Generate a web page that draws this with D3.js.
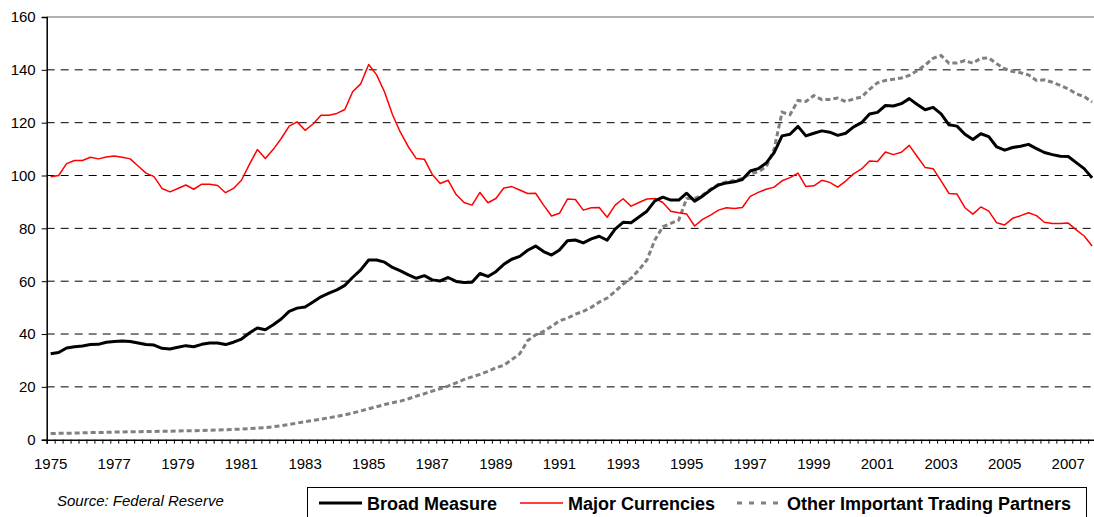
<!DOCTYPE html>
<html><head><meta charset="utf-8">
<script src="https://cdn.jsdelivr.net/npm/d3@7"></script>
<style>body{margin:0;background:#fff}svg{display:block}text{font-family:Arial,"Liberation Sans",sans-serif}</style>
</head><body><svg id="c" width="1094" height="517"></svg>
<script>
const startYear = 1975, quartersPerYear = 4;
const yTicks = [0,20,40,60,80,100,120,140,160];
const xLabels = ["1975","1977","1979","1981","1983","1985","1987","1989","1991","1993","1995","1997","1999","2001","2003","2005","2007"];
const seriesNames = ["Broad Measure","Major Currencies","Other Important Trading Partners"];
const broad = [32.5,33,34.7,35.2,35.5,36,36.1,36.9,37.2,37.4,37.2,36.6,36,35.8,34.6,34.3,35,35.6,35.2,36.1,36.6,36.6,36,36.9,38.1,40.4,42.3,41.6,43.5,45.7,48.6,49.8,50.2,52.1,54.1,55.5,56.7,58.4,61.5,64.3,68,68,67.2,65.2,63.9,62.4,61.1,62.1,60.5,60.1,61.4,59.9,59.5,59.6,62.9,61.8,63.6,66.4,68.3,69.4,71.7,73.3,71.2,69.9,71.8,75.3,75.6,74.5,76,77,75.5,79.7,82.3,82.1,84.3,86.5,90.4,91.8,90.7,90.7,93.3,90.3,92.2,94.5,96.4,97.2,97.6,98.5,101.7,102.6,104.7,108.7,115,115.6,118.6,115,116,116.9,116.4,115.2,116,118.4,120,123.3,123.9,126.5,126.3,127.2,129.1,126.9,124.9,125.8,123.3,119.2,118.7,115.6,113.6,115.8,114.7,110.8,109.6,110.6,111.1,111.8,110.2,108.7,107.9,107.3,107.2,104.9,102.6,99.1];
const major = [99.5,100,104.5,105.7,105.7,106.9,106.3,107,107.4,106.9,106.3,103.6,100.9,99.6,95.1,93.8,95.1,96.4,94.8,96.7,96.7,96.2,93.5,95.1,98.2,104.2,109.8,106.4,109.9,114,118.7,120.3,117.1,119.5,122.8,122.8,123.5,125,131.8,134.7,142,138.1,131.6,123,116.3,110.8,106.4,106.2,100.4,97,98.2,92.8,89.8,88.8,93.6,89.7,91.3,95.3,95.8,94.5,93.2,93.3,88.8,84.7,85.7,91.1,90.9,86.9,87.8,87.9,84.2,88.8,91.2,88.4,89.8,91.1,91.3,89.8,86.5,85.9,85.4,80.9,83.4,85,86.9,87.8,87.5,87.9,92.1,93.6,94.8,95.6,98,99.2,100.9,95.8,96.1,98.2,97.4,95.6,97.9,100.6,102.5,105.5,105.3,108.9,107.9,108.8,111.4,107.2,103,102.6,98,93.2,93,87.8,85.4,88.1,86.5,82.1,81.3,83.8,84.8,85.9,84.8,82.3,81.8,81.8,82,79.4,77.1,73.3];
const other = [2.3,2.4,2.4,2.5,2.6,2.7,2.7,2.8,2.9,2.9,3.0,3.0,3.1,3.1,3.2,3.2,3.3,3.4,3.4,3.5,3.6,3.7,3.8,
3.9,4.0,4.2,4.4,4.6,4.9,5.3,5.8,6.3,6.8,7.3,7.8,8.3,8.8,9.4,10.1,10.9,11.7,12.5,13.3,14.0,14.6,15.5,
16.5,17.4,18.4,19.3,20.3,21.5,22.8,23.8,24.7,25.9,27.2,28.2,30.3,32.5,37.5,39.7,41,42.9,45,46,47.5,
48.6,50.1,52.1,53.6,56.1,58.9,61.1,64.3,68,75.6,80.6,81.9,83.1,91.3,91.3,92.6,94.8,96.6,97.6,98.1,98.9,100.6,
101.4,103.3,110,124,123,128.4,128,130.3,128.7,128.8,129.3,128,129,129.7,132.6,135.1,136,136.4,136.9,137.9,139.7,141.8,
144.4,145.4,142.5,142.6,143.5,142.5,144.4,144.5,142.3,140.4,139.4,138.9,138.1,136,136.2,135.3,134.1,132.8,130.9,129.9,127.8];

const n = broad.length;
const svg = d3.select("#c");
const plotL = 46.7, plotR = plotL + n*7.95, plotT = 17, plotB = 439.7;
const x = d3.scaleLinear().domain([0,n]).range([plotL,plotR]);
const y = d3.scaleLinear().domain([0,160]).range([plotB,plotT]);

// gridlines
svg.append("g").selectAll("line").data(yTicks.filter(v=>v>0&&v<160)).join("line")
  .attr("x1",plotL).attr("x2",plotR).attr("y1",d=>y(d)).attr("y2",d=>y(d))
  .attr("stroke","#000").attr("stroke-width",1).attr("stroke-dasharray","8,6");
svg.append("line").attr("x1",plotL).attr("x2",plotR).attr("y1",y(160)).attr("y2",y(160))
  .attr("stroke","#999").attr("stroke-width",1.5);

// y axis
const yAxis = d3.axisLeft(y).tickValues(yTicks).tickSize(5).tickPadding(6).tickFormat(d3.format("d"));
const gy = svg.append("g").attr("transform",`translate(${plotL},0)`).call(yAxis);
gy.select(".domain").attr("stroke","#000").attr("stroke-width",1.5);
gy.selectAll("text").attr("font-size",15).attr("fill","#000").attr("font-family","Arial, 'Liberation Sans', sans-serif");

// x axis with quarterly ticks
const xAxis = d3.axisBottom(x).tickValues(d3.range(0,n+1)).tickSize(4).tickFormat("");
const gx = svg.append("g").attr("transform",`translate(0,${plotB})`).call(xAxis);
gx.select(".domain").attr("stroke","#000").attr("stroke-width",1.5);
gx.selectAll(".tick line").attr("stroke","#000");
svg.append("g").selectAll("text").data(xLabels).join("text")
  .attr("x",d=>x((+d-startYear)*quartersPerYear+0.5)).attr("y",plotB+29)
  .attr("text-anchor","middle").attr("font-size",15).attr("fill","#000").text(d=>d);

const line = d3.line().x((d,i)=>x(i+0.5)).y(d=>y(d));
svg.append("path").datum(other).attr("d",line).attr("fill","none")
  .attr("stroke","#808080").attr("stroke-width",3).attr("stroke-dasharray","5,3");
svg.append("path").datum(major).attr("d",line).attr("fill","none")
  .attr("stroke","#ff0000").attr("stroke-width",1.5).attr("stroke-linejoin","round");
svg.append("path").datum(broad).attr("d",line).attr("fill","none")
  .attr("stroke","#000").attr("stroke-width",3).attr("stroke-linejoin","round");

// source
svg.append("text").attr("x",57).attr("y",506).attr("font-size",15).attr("font-style","italic").text("Source: Federal Reserve");

// legend
svg.append("rect").attr("x",307.5).attr("y",487.5).attr("width",779).attr("height",40)
  .attr("fill","#fff").attr("stroke","#000").attr("stroke-width",1);
const legendItems = [
  {name:seriesNames[0], x1:319, x2:362, tx:367, color:"#000", w:3, dash:null},
  {name:seriesNames[1], x1:520, x2:563, tx:568, color:"#ff0000", w:1.5, dash:null},
  {name:seriesNames[2], x1:737, x2:779, tx:787, color:"#808080", w:3, dash:"5,7"}
];
const lg = svg.append("g").selectAll("g").data(legendItems).join("g");
lg.append("line").attr("x1",d=>d.x1).attr("x2",d=>d.x2).attr("y1",503).attr("y2",503)
  .attr("stroke",d=>d.color).attr("stroke-width",d=>d.w).attr("stroke-dasharray",d=>d.dash);
lg.append("text").attr("x",d=>d.tx).attr("y",510).attr("font-size",18).attr("font-weight","bold").text(d=>d.name);
</script></body></html>
